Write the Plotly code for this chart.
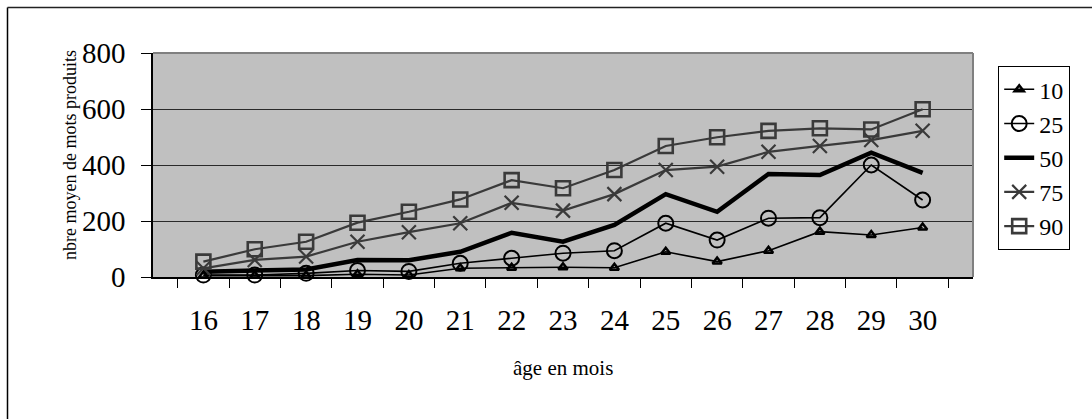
import plotly.graph_objects as go

ages = ["16", "17", "18", "19", "20", "21", "22", "23", "24", "25", "26", "27", "28", "29", "30"]
p10 = [5, 5, 5, 10, 7, 31, 33, 35, 33, 90, 55, 94, 162, 150, 177]
p25 = [7, 7, 13, 23, 20, 49, 67, 85, 94, 192, 132, 210, 212, 400, 275]
p50 = [19, 25, 27, 61, 60, 90, 158, 126, 186, 296, 233, 368, 364, 444, 372]
p75 = [31, 61, 73, 126, 160, 192, 265, 237, 296, 382, 394, 447, 468, 489, 522]
p90 = [55, 99, 126, 194, 233, 277, 346, 317, 382, 468, 499, 522, 531, 527, 599]

y_ticks = [0, 200, 400, 600, 800]
series_names = ["10", "25", "50", "75", "90"]

FONT = "Liberation Serif"
W, H = 1092, 419
L, R, T, B = 153, 973, 53, 277

fig = go.Figure()

specs = [
    (series_names[0], p10, dict(color="black", width=1.6), dict(symbol="triangle-up-open", size=8, line=dict(width=2.5, color="black"))),
    (series_names[1], p25, dict(color="black", width=1.6), dict(symbol="circle-open", size=15, line=dict(width=2, color="black"))),
    (series_names[2], p50, dict(color="black", width=4.5), None),
    (series_names[3], p75, dict(color="#3a3a3a", width=2.2), dict(symbol="x-thin-open", size=14, line=dict(width=2.2, color="black"))),
    (series_names[4], p90, dict(color="#3a3a3a", width=2.2), dict(symbol="square-open", size=14, line=dict(width=2.6, color="black"))),
]

for name, vals, line, marker in specs:
    fig.add_trace(go.Scatter(
        x=ages, y=vals, name=name,
        mode="lines+markers" if marker else "lines",
        line=line,
        marker=marker if marker else None,
        cliponaxis=False,
    ))

def px_x(px):
    return (px - L) / (R - L)

def px_y(py):
    return (B - py) / (B - T)

shapes = [
    dict(type="line", xref="paper", yref="paper", x0=0, x1=1, y0=1, y1=1,
         line=dict(color="#808080", width=2), layer="above"),
    dict(type="line", xref="paper", yref="paper", x0=1, x1=1, y0=0, y1=1,
         line=dict(color="#808080", width=2), layer="above"),
    dict(type="line", xref="paper", yref="paper", x0=px_x(7.5), x1=px_x(7.5), y0=px_y(7.5), y1=px_y(430),
         line=dict(color="black", width=1.5)),
    dict(type="line", xref="paper", yref="paper", x0=px_x(7.5), x1=px_x(1100), y0=px_y(7.5), y1=px_y(7.5),
         line=dict(color="#222", width=1.5)),
]

annotations = [
    dict(text="nbre moyen de mots produits", xref="paper", yref="paper",
         x=px_x(70), y=px_y(155), textangle=-90, showarrow=False,
         font=dict(family=FONT, size=18, color="black"), xanchor="center", yanchor="middle"),
    dict(text="âge en mois", xref="paper", yref="paper",
         x=px_x(563), y=px_y(368), showarrow=False,
         font=dict(family=FONT, size=21, color="black"), xanchor="center", yanchor="middle"),
]

fig.update_layout(
    width=W, height=H,
    margin=dict(l=L, r=W - R, t=T, b=H - B, pad=0),
    paper_bgcolor="white",
    plot_bgcolor="#C0C0C0",
    font=dict(family=FONT, color="black"),
    showlegend=True,
    legend=dict(
        x=px_x(998), y=px_y(66), xanchor="left", yanchor="top",
        bordercolor="black", borderwidth=1.2, bgcolor="white",
        font=dict(family=FONT, size=24, color="black"),
        tracegroupgap=0, itemwidth=30,
    ),
    shapes=shapes,
    annotations=annotations,
    xaxis=dict(
        type="category", showgrid=False, showline=True, linecolor="black", linewidth=1.5,
        ticks="outside", tickson="boundaries", ticklen=9, tickcolor="black", tickwidth=1.2,
        tickfont=dict(family=FONT, size=29, color="black"), ticklabelstandoff=16,
        zeroline=False, fixedrange=True,
    ),
    yaxis=dict(
        range=[0, 800], tickvals=y_ticks, showgrid=True, gridcolor="#2a2a2a", gridwidth=1,
        showline=True, linecolor="black", linewidth=1.5,
        ticks="outside", ticklen=10, tickcolor="black", tickwidth=1.2,
        tickfont=dict(family=FONT, size=29, color="black"), ticklabelstandoff=10,
        zeroline=False, fixedrange=True,
    ),
)

fig.write_html("out.html", config={"displayModeBar": False},
               post_script="document.body.style.margin='0';document.body.style.overflow='hidden';")
